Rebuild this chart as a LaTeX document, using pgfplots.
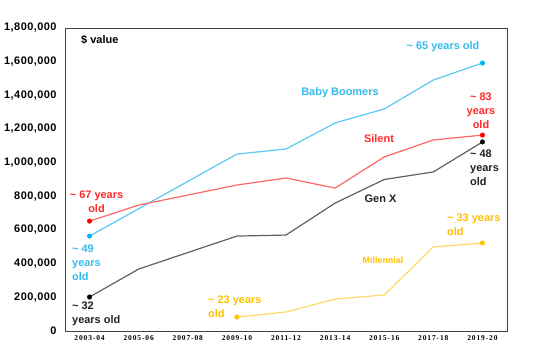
\documentclass[border=0pt]{standalone}
\usepackage{pgfplots}
\pgfplotsset{compat=1.18}
\usepackage{fontspec}
\setmainfont{Liberation Sans}
\newfontfamily\serifb[LetterSpace=12]{Liberation Serif}
\newfontfamily\sansls[LetterSpace=4]{Liberation Sans}
\definecolor{bbline}{HTML}{5BC8F5}
\definecolor{bbmark}{HTML}{00B0F0}
\definecolor{bbtext}{HTML}{33BBEE}
\definecolor{siline}{HTML}{FF6666}
\definecolor{simark}{HTML}{FF0000}
\definecolor{sitext}{HTML}{FF2A2A}
\definecolor{gxline}{HTML}{606060}
\definecolor{gxtext}{HTML}{222222}
\definecolor{mline}{HTML}{FFD966}
\definecolor{mmark}{HTML}{FFC000}
\definecolor{mtext}{HTML}{FFC000}
\definecolor{frame}{HTML}{404040}
\begin{document}
\begin{tikzpicture}[x=1bp,y=1bp]
\path[use as bounding box] (-65,-23) rectangle (478,331);
\begin{axis}[
  at={(0,0)}, anchor=south west,
  scale only axis, width=442bp, height=303bp,
  xmin=-0.5, xmax=8.5, ymin=0, ymax=1800000,
  xtick={0,...,8},
  xticklabels={2003-04,2005-06,2007-08,2009-10,2011-12,2013-14,2015-16,2017-18,2019-20},
  ytick={0,200000,...,1800000},
  scaled y ticks=false,
  /pgf/number format/.cd, fixed, 1000 sep={,}, assume math mode=true,
  /pgfplots/.cd,
  major tick length=0pt,
  axis line style={draw=frame, line width=1pt},
  yticklabel style={font=\sansls\fontsize{11}{12}\selectfont\bfseries, xshift=-5bp},
  xticklabel style={font=\serifb\fontsize{7.5}{8}\selectfont\bfseries, yshift=-1bp},
  clip=false,
]
\addplot[bbline, line width=1.2pt] coordinates {(0,564000) (3,1051000) (4,1081000) (5,1236000) (6,1319000) (7,1491000) (8,1592000)};
\addplot[siline, line width=1.2pt] coordinates {(0,653000) (1,748000) (3,867000) (4,909000) (5,849000) (6,1034000) (7,1135000) (8,1164000)};
\addplot[gxline, line width=1.2pt] coordinates {(0,202000) (1,368000) (3,564000) (4,570000) (5,760000) (6,900000) (7,945000) (8,1123000)};
\addplot[mline, line width=1.2pt] coordinates {(3,83000) (4,113000) (5,190000) (6,214000) (7,499000) (8,523000)};
\addplot[only marks, mark=*, mark size=2.3pt, bbmark, mark options={draw=bbmark, fill=bbmark}] coordinates {(0,564000) (8,1592000)};
\addplot[only marks, mark=*, mark size=2.3pt, simark, mark options={draw=simark, fill=simark}] coordinates {(0,653000) (8,1164000)};
\addplot[only marks, mark=*, mark size=2.3pt, black, mark options={draw=black, fill=black}] coordinates {(0,202000) (8,1123000)};
\addplot[only marks, mark=*, mark size=2.3pt, mmark, mark options={draw=mmark, fill=mmark}] coordinates {(3,83000) (8,523000)};
\end{axis}
\tikzset{lab/.style={inner sep=0pt, font=\fontsize{11}{14}\selectfont\bfseries}}
\node[lab, anchor=west, black] at (16,291) {\$ value};
\node[lab, bbtext] at (378,284) {\textasciitilde{} 65 years old};
\node[lab, bbtext] at (275,238) {Baby Boomers};
\node[lab, sitext, align=center] at (416,220) {\textasciitilde{} 83\\years\\old};
\node[lab, sitext] at (314,192) {Silent};
\node[lab, gxtext, anchor=west, align=left] at (405,163) {\textasciitilde{} 48\\years\\old};
\node[lab, gxtext] at (315.5,132) {Gen X};
\node[lab, mtext, anchor=west, align=left] at (382,106) {\textasciitilde{} 33 years\\old};
\node[inner sep=0pt, font=\fontsize{9}{10}\selectfont\bfseries, mtext] at (318,71) {Millennial};
\node[lab, mtext, anchor=west, align=left] at (143,24) {\textasciitilde{} 23 years\\old};
\node[lab, gxtext, anchor=west, align=left] at (7,17.5) {\textasciitilde{} 32\\years old};
\node[lab, bbtext, anchor=west, align=left] at (7,68) {\textasciitilde{} 49\\years\\old};
\node[lab, sitext, align=center] at (31.5,129) {\textasciitilde{} 67 years\\old};
\end{tikzpicture}
\end{document}
